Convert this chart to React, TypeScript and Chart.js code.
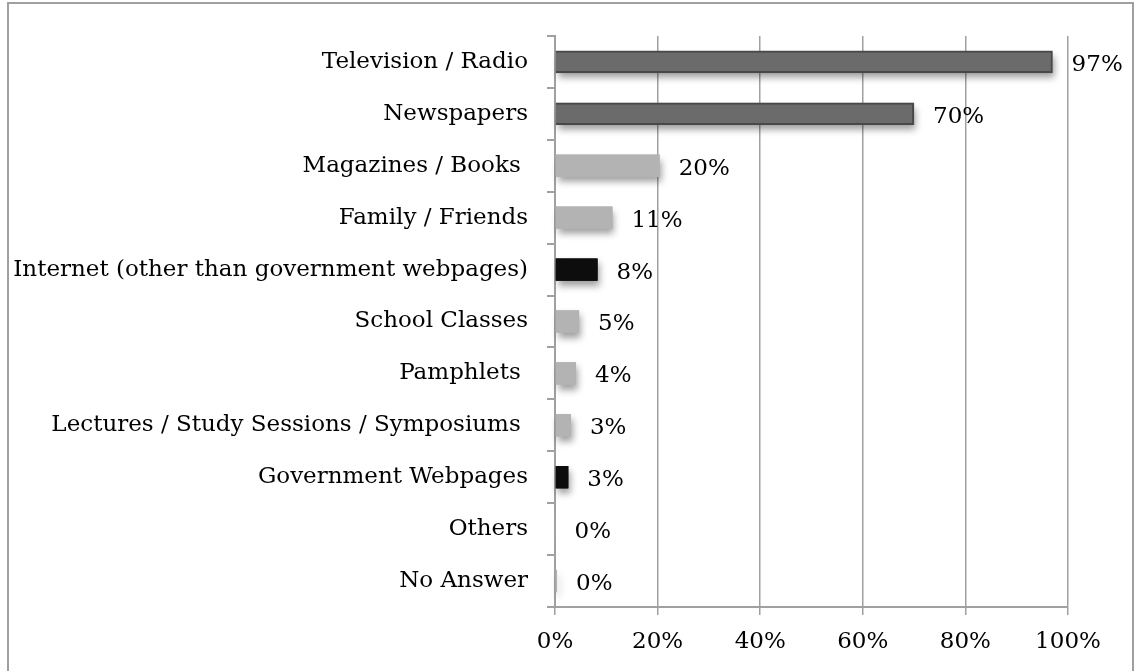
import React, { useEffect, useRef } from "react";
import { Chart, registerables } from "chart.js";

Chart.register(...registerables);

const categories = [
  "Television / Radio",
  "Newspapers",
  "Magazines / Books ",
  "Family / Friends",
  "Internet (other than government webpages)",
  "School Classes",
  "Pamphlets ",
  "Lectures / Study Sessions / Symposiums ",
  "Government Webpages",
  "Others",
  "No Answer",
];

const values = [97, 70, 20.4, 11.2, 8.3, 4.7, 4.1, 3.1, 2.6, 0.1, 0.4];

const barColors = [
  "#6b6b6b",
  "#6b6b6b",
  "#b3b3b3",
  "#b3b3b3",
  "#0d0d0d",
  "#b3b3b3",
  "#b3b3b3",
  "#b3b3b3",
  "#0d0d0d",
  "#b3b3b3",
  "#b3b3b3",
];

const borderColors = [
  "#484848",
  "#484848",
  "#b3b3b3",
  "#b3b3b3",
  "#0d0d0d",
  "#b3b3b3",
  "#b3b3b3",
  "#b3b3b3",
  "#0d0d0d",
  "#b3b3b3",
  "#b3b3b3",
];

const borderWidths = [2, 2, 0, 0, 0, 0, 0, 0, 0, 0, 0];

const xTicks = [0, 20, 40, 60, 80, 100];

const FONT = "'DejaVu Serif', serif";
const FONT_SIZE = 23;

export default function App() {
  const ref = useRef<HTMLCanvasElement | null>(null);

  useEffect(() => {
    if (!ref.current) return;
    const shadowAndLabels = {
      id: "shadowAndLabels",
      beforeDatasetsDraw(chart: any) {
        const ctx = chart.ctx;
        const meta = chart.getDatasetMeta(0);
        ctx.save();
        ctx.shadowColor = "rgba(0,0,0,0.38)";
        ctx.shadowBlur = 7;
        ctx.shadowOffsetX = 2;
        ctx.shadowOffsetY = 5;
        meta.data.forEach((bar: any, i: number) => {
          const h = bar.height;
          const left = Math.min(bar.base, bar.x);
          const w = Math.abs(bar.x - bar.base);
          if (w < 0.5) return;
          ctx.fillStyle = barColors[i];
          ctx.fillRect(left, bar.y - h / 2, w, h);
        });
        ctx.restore();
      },
      afterDatasetsDraw(chart: any) {
        const ctx = chart.ctx;
        const meta = chart.getDatasetMeta(0);
        ctx.save();
        ctx.font = `${FONT_SIZE}px ${FONT}`;
        ctx.fillStyle = "#000";
        ctx.textAlign = "left";
        ctx.textBaseline = "middle";
        meta.data.forEach((bar: any, i: number) => {
          const v = values[i];
          ctx.fillText(Math.round(v) + "%", bar.x + 19, bar.y + 3);
        });
        ctx.restore();
      },
    };

    const chart = new Chart(ref.current, {
      type: "bar",
      data: {
        labels: categories,
        datasets: [
          {
            data: values,
            backgroundColor: barColors,
            borderColor: borderColors,
            borderWidth: borderWidths,
            barPercentage: 0.43,
            categoryPercentage: 1,
          },
        ],
      },
      options: {
        indexAxis: "y",
        animation: false,
        responsive: false,
        layout: { padding: { top: 36, right: 70, left: 0, bottom: 0 } },
        plugins: {
          legend: { display: false },
          tooltip: { enabled: false },
        },
        scales: {
          x: {
            min: 0,
            max: 100,
            afterFit(scale: any) {
              scale.height = 64;
            },
            afterBuildTicks(scale: any) {
              scale.ticks = xTicks.map((v) => ({ value: v }));
            },
            ticks: {
              callback: (v: any) => v + "%",
              color: "#000",
              font: { family: FONT, size: FONT_SIZE },
              padding: 13,
              maxRotation: 0,
            },
            grid: {
              color: "#a0a0a0",
              lineWidth: 1.5,
              tickLength: 8,
              drawTicks: true,
            },
            border: { color: "#a0a0a0", width: 2 },
          },
          y: {
            afterFit(scale: any) {
              scale.width = 555;
            },
            ticks: {
              color: "#000",
              font: { family: FONT, size: FONT_SIZE },
              padding: 19,
              autoSkip: false,
            },
            grid: {
              drawOnChartArea: false,
              color: "#a0a0a0",
              lineWidth: 2,
              tickLength: 8,
              offset: true,
            },
            border: { color: "#a0a0a0", width: 2 },
          },
        },
      },
      plugins: [shadowAndLabels],
    });
    return () => chart.destroy();
  }, []);

  return (
    <div
      style={{
        position: "fixed",
        left: 0,
        top: 0,
        width: 1138,
        height: 671,
        background: "#fff",
        overflow: "hidden",
      }}
    >
      <div
        style={{
          position: "absolute",
          left: 7,
          top: 2,
          width: 1127,
          height: 720,
          boxSizing: "border-box",
          border: "2px solid #a0a0a0",
        }}
      />
      <canvas
        ref={ref}
        width={1138}
        height={671}
        style={{ position: "absolute", left: 0, top: 0, width: 1138, height: 671 }}
      />
    </div>
  );
}
